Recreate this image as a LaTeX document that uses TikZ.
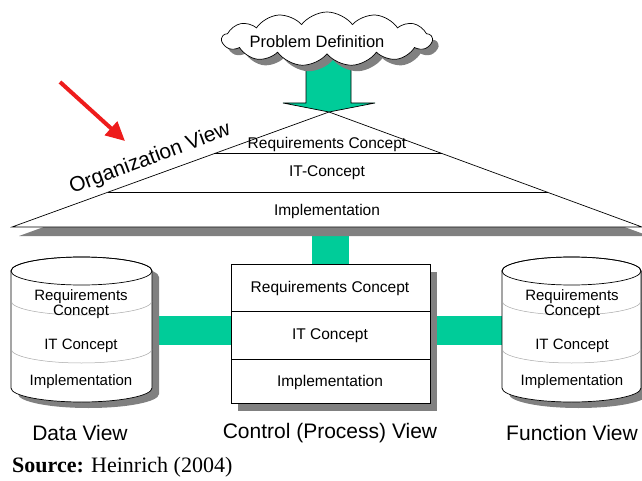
\documentclass[tikz,border=0pt]{standalone}
\usepackage{fontspec}
\setmainfont{Liberation Sans}
\newfontfamily\sourcefont{Liberation Serif}
\usetikzlibrary{shapes.symbols,arrows.meta}
\definecolor{viewgreen}{HTML}{00CC99}
\definecolor{shadowgray}{HTML}{808080}
\definecolor{sepgray}{HTML}{A8A8A8}
\definecolor{pointred}{HTML}{EE1C1C}

% cylinder body outline between x = #1 and x = #2
\newcommand\cylbodypath[2]{(#1,271) -- (#1,388)
  arc[start angle=180,end angle=0,x radius=\cylrx,y radius=14] -- (#2,271)
  arc[start angle=0,end angle=-180,x radius=\cylrx,y radius=14] -- cycle}

\newcommand\drawviewcylinder[2]{%
  \pgfmathsetmacro\cylcx{(#1+#2)/2}%
  \pgfmathsetmacro\cylrx{(#2-#1)/2}%
  \fill[shadowgray,shift={(7,6)}] \cylbodypath{#1}{#2};
  \draw[outline,fill=white] \cylbodypath{#1}{#2};
  \draw[sepgray,line width=0.5pt] (#1,301) arc[start angle=180,end angle=0,x radius=\cylrx,y radius=14];
  \draw[sepgray,line width=0.5pt] (#1,349) arc[start angle=180,end angle=0,x radius=\cylrx,y radius=14];
  \draw[outline] (\cylcx,271) ellipse[x radius=\cylrx,y radius=14];
}

\begin{document}
\begin{tikzpicture}[x=1pt,y=-1pt,
  outline/.style={draw=black,line width=0.7pt},
  inner/.style={font=\fontsize{15.5}{16}\selectfont,inner sep=0pt},
  cyltext/.style={font=\fontsize{15}{15}\selectfont,align=center,inner sep=0pt},
  viewlabel/.style={font=\fontsize{21}{24}\selectfont,inner sep=0pt},
  bar/.style={fill=viewgreen}]
\useasboundingbox (0,0) rectangle (642,481);

% green links between the views
\coordinate (dataR) at (150,316);
\coordinate (ctrlL) at (232,345);
\coordinate (ctrlR) at (429,316);
\coordinate (funcL) at (504,345);
\coordinate (orgB) at (312,227);
\coordinate (ctrlT) at (349,265);
\fill[bar] (dataR) rectangle (ctrlL);
\fill[bar] (ctrlR) rectangle (funcL);
\fill[bar] (orgB) rectangle (ctrlT);

% organization view (triangle)
\fill[shadowgray,shift={(7,9)}] (12,227) -- (329,112) -- (642,227) -- cycle;
\draw[outline,fill=white] (12,227) -- (329,112) -- (642,227) -- cycle;
\draw[black,line width=0.6pt] (214,153) -- (442,153);
\draw[black,line width=0.6pt] (108,192) -- (548,192);
\node[inner] (orgReq) at (327,144) {Requirements Concept};
\node[inner] (orgIT) at (327,173) {IT-Concept};
\node[inner] (orgImp) at (327,211) {Implementation};
\node[viewlabel,rotate=20.5] (orgLabel) at (150,159) {Organization View};

% arrow from the problem definition
\draw[outline,fill=viewgreen] (306,50) -- (351,50) -- (351,103) -- (375,103)
  -- (329,112) -- (283,103) -- (306,103) -- cycle;

% problem definition cloud
\node[cloud,cloud puffs=13,cloud puff arc=105,cloud ignores aspect,
  minimum width=210pt,minimum height=54pt,fill=shadowgray] (cloudShadow) at (333,45) {};
\node[cloud,cloud puffs=13,cloud puff arc=105,cloud ignores aspect,
  minimum width=210pt,minimum height=54pt,outline,fill=white] (cloud) at (327,39) {};
\node[font=\fontsize{16.5}{18}\selectfont,inner sep=0pt] (problem) at (317,42) {Problem Definition};

% control (process) view
\fill[shadowgray] (238,272) rectangle (437,411);
\draw[outline,fill=white] (231,264) rectangle (430,403);
\draw[black,line width=0.5pt] (231,311) -- (430,311);
\draw[black,line width=0.5pt] (231,359) -- (430,359);
\node[inner] (ctrlReq) at (330,288) {Requirements Concept};
\node[inner] (ctrlIT) at (330,336) {IT Concept};
\node[inner] (ctrlImp) at (330,382) {Implementation};

% data and function views
\drawviewcylinder{11}{152}
\drawviewcylinder{502}{641}
\node[cyltext] (dataReq) at (81,304) {Requirements\\Concept};
\node[cyltext] (dataIT) at (81,346) {IT Concept};
\node[cyltext] (dataImp) at (81,382) {Implementation};
\node[cyltext] (funcReq) at (572,304) {Requirements\\Concept};
\node[cyltext] (funcIT) at (572,346) {IT Concept};
\node[cyltext] (funcImp) at (572,382) {Implementation};

% view captions
\node[viewlabel] (dataLabel) at (80,433) {Data View};
\node[viewlabel] (ctrlLabel) at (330,433) {Control (Process) View};
\node[viewlabel] (funcLabel) at (572,433) {Function View};

% pointer to the organization view
\coordinate (ptrStart) at (60,82);
\coordinate (ptrEnd) at (125,141);
\draw[pointred,line width=4pt,-{Triangle[length=19pt,width=18pt]}] (ptrStart) -- (ptrEnd);

\node[anchor=base west,inner sep=0pt,font=\sourcefont\fontsize{22}{24}\selectfont] (source) at (12,472)
  {\textbf{Source:} Heinrich (2004)};
\end{tikzpicture}
\end{document}
